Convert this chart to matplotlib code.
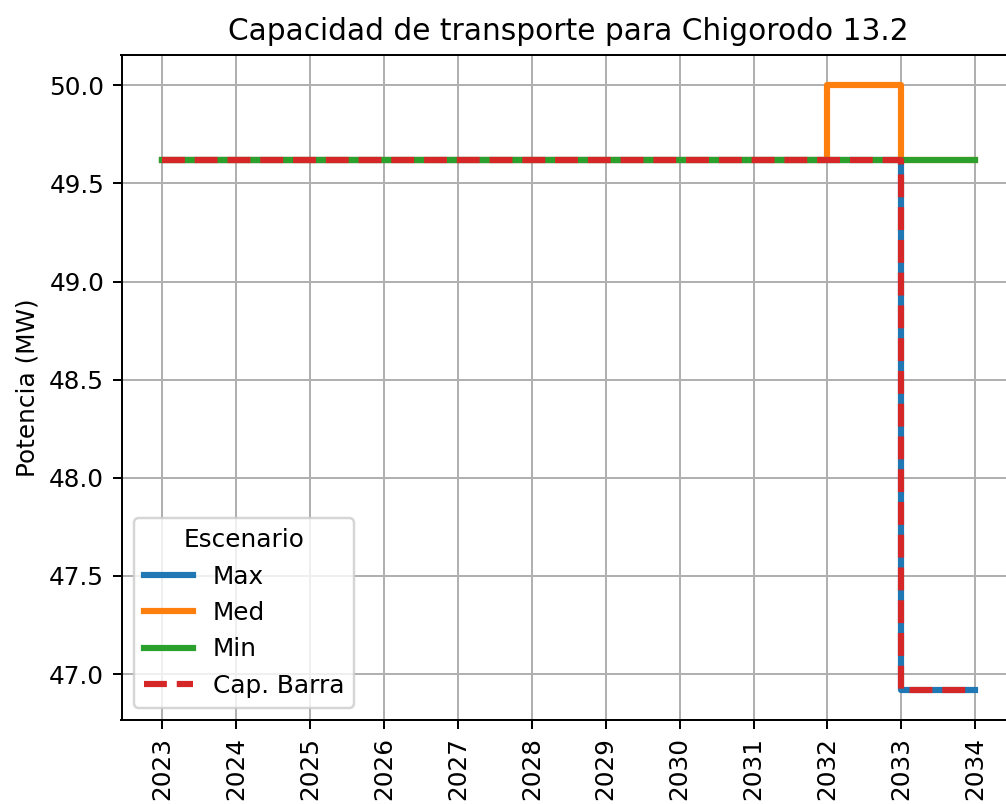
import matplotlib
matplotlib.use("Agg")
import matplotlib.pyplot as plt

years = [2023, 2024, 2025, 2026, 2027, 2028, 2029, 2030, 2031, 2032, 2033, 2034]
cap_max = [49.62] * 10 + [46.92, 46.92]
cap_med = [49.62] * 9 + [50.0, 49.62, 49.62]
cap_min = [49.62] * 12
cap_barra = [min(a, b, c) for a, b, c in zip(cap_max, cap_med, cap_min)]

dpi = 178
fig = plt.figure(figsize=(1006 / dpi, 804 / dpi), dpi=dpi)
ax = fig.add_axes([121.5 / 1006, 1 - 720 / 804, (1016 - 121.5) / 1006, (720 - 55) / 804])

lw = 2.5
ax.plot(years, cap_max, drawstyle="steps-post", color="#1f77b4", lw=lw, label="Max")
ax.plot(years, cap_med, drawstyle="steps-post", color="#ff7f0e", lw=lw, label="Med")
ax.plot(years, cap_min, drawstyle="steps-post", color="#2ca02c", lw=lw, label="Min")
ax.plot(years, cap_barra, drawstyle="steps-post", color="#d62728", lw=lw, ls="--", label="Cap. Barra")

ax.set_xticks(years)
ax.set_xticklabels([str(y) for y in years], rotation=90)
ax.set_ylabel("Potencia (MW)")
ax.set_title("Capacidad de transporte para Chigorodo 13.2")
ax.grid(True)
ax.legend(title="Escenario", loc="lower left")

fig.savefig("out.png", dpi=dpi)
